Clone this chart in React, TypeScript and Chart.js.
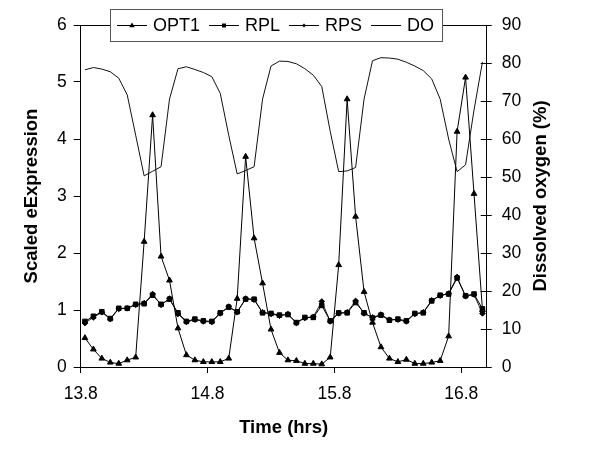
import React, { useEffect, useRef } from "react";
import { Chart, registerables } from "chart.js";

Chart.register(...registerables);

// Sampling: one sample every 4 minutes, plotted at the centre of each 4-minute slot from 13.8 h
const startHour = 13.8;
const sampleMinutes = 4;
const xTicks = [13.8, 14.8, 15.8, 16.8];

const opt1 = [
  0.51, 0.31, 0.15, 0.08, 0.06, 0.12, 0.17, 2.2, 4.42, 1.94,
  1.52, 0.68, 0.21, 0.12, 0.09, 0.09, 0.09, 0.15, 1.2, 3.69,
  2.26, 1.47, 0.66, 0.25, 0.12, 0.11, 0.06, 0.06, 0.05, 0.17,
  1.79, 4.7, 2.64, 1.32, 0.78, 0.35, 0.15, 0.09, 0.13, 0.06,
  0.06, 0.08, 0.11, 0.54, 4.13, 5.08, 3.04, 1.0,
];

const rpl = [
  0.8, 0.89, 0.97, 0.85, 1.03, 1.03, 1.1, 1.11, 1.26, 1.1,
  1.19, 0.95, 0.8, 0.84, 0.81, 0.8, 0.95, 1.05, 0.97, 1.19,
  1.19, 0.95, 0.94, 0.91, 0.92, 0.78, 0.87, 0.87, 1.08, 0.81,
  0.95, 0.95, 1.13, 0.95, 0.86, 0.91, 0.82, 0.84, 0.81, 0.94,
  0.95, 1.16, 1.26, 1.28, 1.56, 1.25, 1.28, 1.02,
];

const rps = [
  0.77, 0.87, 0.96, 0.84, 1.02, 1.03, 1.09, 1.12, 1.28, 1.09,
  1.2, 0.93, 0.79, 0.83, 0.8, 0.79, 0.94, 1.06, 0.96, 1.2,
  1.18, 0.96, 0.93, 0.9, 0.93, 0.77, 0.86, 0.88, 1.15, 0.8,
  0.94, 0.96, 1.16, 0.94, 0.87, 0.92, 0.83, 0.83, 0.8, 0.93,
  0.96, 1.17, 1.25, 1.29, 1.58, 1.24, 1.27, 0.94,
];

const dissolvedO2 = [
  78.2, 78.8, 78.4, 77.7, 76.0, 71.6, 61.0, 50.3, 51.5, 52.7,
  70.5, 78.5, 79.0, 78.3, 77.5, 76.4, 72.0, 61.0, 50.8, 51.7,
  52.7, 70.5, 79.2, 80.5, 80.4, 79.8, 78.5, 76.8, 73.8, 62.0,
  51.4, 51.6, 52.5, 70.5, 80.6, 81.4, 81.3, 81.0, 80.2, 79.2,
  78.0, 75.8, 70.5, 60.0, 51.4, 53.2, 67.6, 80.3,
];

const seriesNames = ["OPT1", "RPL", "RPS", "DO"];
const leftTitle = "Scaled eExpression";
const rightTitle = "Dissolved oxygen (%)";
const bottomTitle = "Time (hrs)";

const FONT = "'Liberation Sans', Arial, sans-serif";

function toPoints(values: number[]) {
  return values.map((v, i) => ({ x: startHour + (sampleMinutes * (i + 0.5)) / 60, y: v }));
}

function drawMarker(ctx: CanvasRenderingContext2D, kind: string, x: number, y: number, r: number) {
  ctx.beginPath();
  if (kind === "triangle") {
    ctx.moveTo(x, y - r);
    ctx.lineTo(x + r * 0.9, y + r * 0.6);
    ctx.lineTo(x - r * 0.9, y + r * 0.6);
    ctx.closePath();
  } else if (kind === "rect") {
    ctx.rect(x - r, y - r, 2 * r, 2 * r);
  } else if (kind === "rectRot") {
    ctx.moveTo(x, y - r);
    ctx.lineTo(x + r, y);
    ctx.lineTo(x, y + r);
    ctx.lineTo(x - r, y);
    ctx.closePath();
  }
  ctx.fill();
}

const framePlugin = {
  id: "frameAndLegend",
  afterDraw(chart: any) {
    const { ctx, chartArea, scales } = chart;
    ctx.save();
    // top border of the plot area
    ctx.strokeStyle = "#000";
    ctx.lineWidth = 1;
    ctx.beginPath();
    ctx.moveTo(chartArea.left, Math.round(chartArea.top) + 0.5);
    ctx.lineTo(chartArea.right, Math.round(chartArea.top) + 0.5);
    ctx.stroke();
    // inner tick marks on the right axis (ticks cross the axis)
    const y2 = scales.y2;
    ctx.beginPath();
    y2.ticks.forEach((t: any) => {
      const py = Math.round(y2.getPixelForValue(t.value)) + 0.5;
      ctx.moveTo(chartArea.right - 6, py);
      ctx.lineTo(chartArea.right, py);
    });
    ctx.stroke();

    // right axis title, reading bottom-to-top
    ctx.fillStyle = "#000";
    ctx.font = `bold 18.5px ${FONT}`;
    ctx.textAlign = "center";
    ctx.textBaseline = "middle";
    ctx.translate(540.5, (chartArea.top + chartArea.bottom) / 2);
    ctx.rotate(-Math.PI / 2);
    ctx.fillText(rightTitle, 0, 0);
    ctx.restore();

    // legend box
    ctx.save();
    ctx.font = `18px ${FONT}`;
    const markers = ["triangle", "rect", "rectRot", "none"];
    const sample = 30;
    const gapText = 6;
    const gapItem = 9;
    const boxLeft = 110;
    const boxTop = 9;
    const boxH = 32;
    let x = boxLeft + 7;
    const items = seriesNames.map((name, i) => {
      const w = ctx.measureText(name).width;
      const it = { name, marker: markers[i], sx: x, tx: x + sample + gapText, w };
      x = it.tx + w + gapItem;
      return it;
    });
    const boxRight = x - gapItem + 8;
    ctx.fillStyle = "#fff";
    ctx.fillRect(boxLeft, boxTop, boxRight - boxLeft, boxH);
    ctx.strokeStyle = "#555";
    ctx.lineWidth = 1;
    ctx.strokeRect(boxLeft + 0.5, boxTop + 0.5, boxRight - boxLeft, boxH);
    const cy = boxTop + boxH / 2;
    items.forEach((it) => {
      ctx.strokeStyle = "#000";
      ctx.lineWidth = 1;
      ctx.beginPath();
      ctx.moveTo(it.sx, Math.round(cy) + 0.5);
      ctx.lineTo(it.sx + sample, Math.round(cy) + 0.5);
      ctx.stroke();
      ctx.fillStyle = "#000";
      if (it.marker !== "none") {
        drawMarker(ctx, it.marker, it.sx + sample / 2, cy + 0.5, it.marker === "triangle" ? 3 : it.marker === "rect" ? 2 : 2);
      }
      ctx.textAlign = "left";
      ctx.textBaseline = "middle";
      ctx.fillText(it.name, it.tx, cy + 1);
    });
    ctx.restore();
  },
};

export default function App() {
  const ref = useRef<HTMLCanvasElement>(null);

  useEffect(() => {
    document.body.style.margin = "0";
    const canvas = ref.current;
    if (!canvas) return;
    Chart.defaults.color = "#000";
    Chart.defaults.font.family = FONT;

    const tickFont = { family: FONT, size: 17.5 };
    const titleFont = { family: FONT, size: 18.5, weight: "bold" as const };

    const chart = new Chart(canvas, {
      type: "line",
      data: {
        datasets: [
          {
            label: seriesNames[0],
            data: toPoints(opt1),
            yAxisID: "y",
            borderColor: "#000",
            backgroundColor: "#000",
            borderWidth: 1,
            pointStyle: "triangle",
            pointRadius: 3.3,
            pointBorderWidth: 1,
            pointBackgroundColor: "#000",
            pointBorderColor: "#000",
            tension: 0,
          },
          {
            label: seriesNames[1],
            data: toPoints(rpl),
            yAxisID: "y",
            borderColor: "#000",
            backgroundColor: "#000",
            borderWidth: 1,
            pointStyle: "rect",
            pointRadius: 3.2,
            pointBorderWidth: 1,
            pointBackgroundColor: "#000",
            pointBorderColor: "#000",
            tension: 0,
          },
          {
            label: seriesNames[2],
            data: toPoints(rps),
            yAxisID: "y",
            borderColor: "#222",
            backgroundColor: "#000",
            borderWidth: 1,
            pointStyle: "rectRot",
            pointRadius: 2.8,
            pointBorderWidth: 1,
            pointBackgroundColor: "#000",
            pointBorderColor: "#000",
            tension: 0,
          },
          {
            label: seriesNames[3],
            data: toPoints(dissolvedO2),
            yAxisID: "y2",
            borderColor: "#111",
            backgroundColor: "#111",
            borderWidth: 1,
            pointRadius: 0,
            tension: 0,
          },
        ],
      },
      options: {
        responsive: false,
        animation: false,
        events: [],
        layout: { padding: { left: 17, top: 25, right: 0, bottom: 20.9 } },
        plugins: { legend: { display: false }, tooltip: { enabled: false }, title: { display: false } },
        scales: {
          x: {
            type: "linear",
            min: 13.8,
            max: 17.0,
            afterBuildTicks: (s: any) => {
              s.ticks = xTicks.map((v) => ({ value: v }));
            },
            afterFit: (s: any) => {
              s.height = 76.1;
            },
            grid: { drawOnChartArea: false, tickLength: 6, color: "#000", lineWidth: 1 },
            border: { color: "#000", width: 1 },
            ticks: { font: tickFont, color: "#000", padding: 11, maxRotation: 0, callback: (v: any) => Number(v).toFixed(1) },
            title: { display: true, text: bottomTitle, font: titleFont, color: "#000", padding: { top: 4, bottom: 4 } },
          },
          y: {
            type: "linear",
            position: "left",
            min: 0,
            max: 6,
            ticks: { stepSize: 1, font: tickFont, color: "#000", padding: 7 },
            afterFit: (s: any) => {
              s.width = 63.7;
            },
            grid: { drawOnChartArea: false, tickLength: 7, color: "#000" },
            border: { color: "#000", width: 1 },
            title: { display: true, text: leftTitle, font: titleFont, color: "#000", padding: { top: 4, bottom: 4 } },
          },
          y2: {
            type: "linear",
            position: "right",
            min: 0,
            max: 90,
            ticks: { stepSize: 10, font: tickFont, color: "#000", padding: 10 },
            afterFit: (s: any) => {
              s.width = 113.3;
            },
            grid: { drawOnChartArea: false, tickLength: 5, color: "#000" },
            border: { color: "#000", width: 1 },
          },
        },
      },
      plugins: [framePlugin],
    });

    return () => chart.destroy();
  }, []);

  return <canvas ref={ref} width={600} height={464} style={{ display: "block" }} />;
}
